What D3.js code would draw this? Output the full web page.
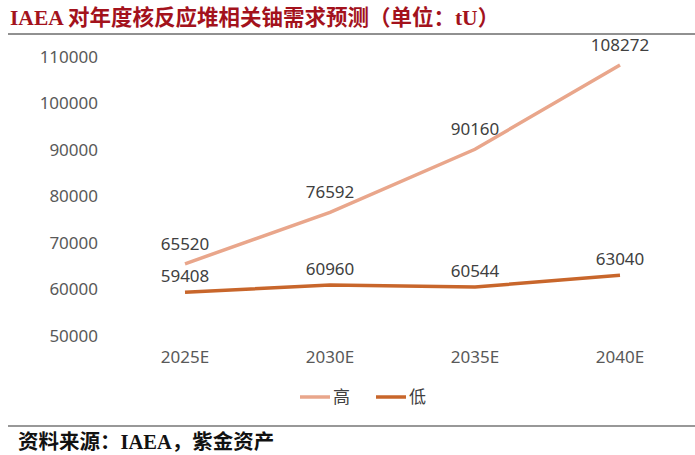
<!DOCTYPE html>
<html><head><meta charset="utf-8">
<script src="https://cdn.jsdelivr.net/npm/d3@7"></script>
<style>body{margin:0;background:#fff}</style>
</head><body>
<svg id="c" width="695" height="455"></svg>
<script>
const years = ["2025E", "2030E", "2035E", "2040E"];
const high = [65520, 76592, 90160, 108272];
const low = [59408, 60960, 60544, 63040];
const yTicks = [50000, 60000, 70000, 80000, 90000, 100000, 110000];

const svg = d3.select("#c");
const x = d3.scalePoint().domain(years).range([185, 620]);
const y = d3.scaleLinear().domain([50000, 110000]).range([336, 57]);

svg.append("text").attr("x", 10).attr("y", 25)
  .attr("font-family", "'Liberation Serif','Noto Sans CJK SC'").attr("font-weight", "bold")
  .attr("font-size", 21.5).attr("fill", "#a3121c")
  .text("IAEA 对年度核反应堆相关铀需求预测（单位：tU）");
svg.append("line").attr("x1", 8).attr("x2", 695).attr("y1", 34).attr("y2", 34)
  .attr("stroke", "#222").attr("stroke-width", 1);

const tickFont = "'Noto Sans','Liberation Sans',sans-serif";
svg.append("g").selectAll("text").data(yTicks).join("text")
  .attr("x", 98).attr("y", d => y(d)).attr("dy", "0.35em").attr("text-anchor", "end")
  .attr("font-family", tickFont).attr("font-size", 17).attr("fill", "#595959").text(d => d);
svg.append("g").selectAll("text").data(years).join("text")
  .attr("x", d => x(d)).attr("y", 363).attr("text-anchor", "middle")
  .attr("font-family", tickFont).attr("font-size", 17).attr("fill", "#595959").text(d => d);

const series = [
  { name: "高", values: high, color: "#e9a68b", dy: -14 },
  { name: "低", values: low, color: "#c8662b", dy: -10 }
];
const line = d3.line().x((d, i) => x(years[i])).y(d => y(d));
series.forEach(s => {
  svg.append("path").attr("d", line(s.values)).attr("fill", "none")
    .attr("stroke", s.color).attr("stroke-width", 3.5);
  svg.append("g").selectAll("text").data(s.values).join("text")
    .attr("x", (d, i) => x(years[i])).attr("y", d => y(d) + s.dy)
    .attr("text-anchor", "middle").attr("font-family", tickFont)
    .attr("font-size", 17).attr("fill", "#404040").text(d => d);
});

const lg = svg.append("g");
series.forEach((s, i) => {
  const lx = 300 + i * 76;
  lg.append("line").attr("x1", lx).attr("x2", lx + 30).attr("y1", 397).attr("y2", 397)
    .attr("stroke", s.color).attr("stroke-width", 3.5);
  lg.append("text").attr("x", lx + 33).attr("y", 397).attr("dy", "0.35em")
    .attr("font-family", "'Noto Sans CJK SC'").attr("font-size", 17).attr("fill", "#404040").text(s.name);
});

svg.append("line").attr("x1", 8).attr("x2", 695).attr("y1", 426).attr("y2", 426)
  .attr("stroke", "#333").attr("stroke-width", 1.2);
svg.append("text").attr("x", 18).attr("y", 449)
  .attr("font-family", "'Liberation Serif','Noto Sans CJK SC'").attr("font-weight", "bold")
  .attr("font-size", 20.5).attr("fill", "#111").text("资料来源：IAEA，紫金资产");
</script>
</body></html>
